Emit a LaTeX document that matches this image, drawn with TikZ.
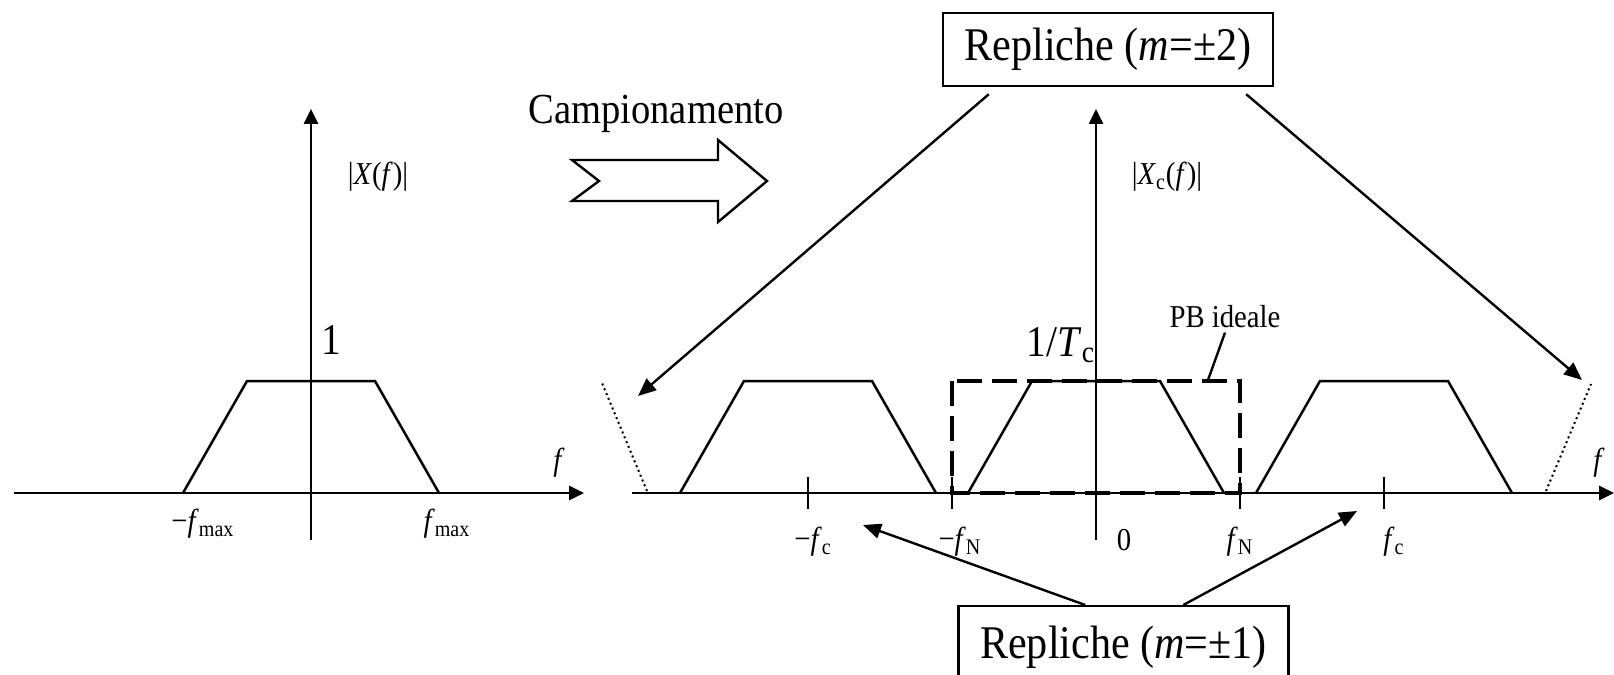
\documentclass[tikz,border=0pt]{standalone}
\usepackage{fontspec}
\setmainfont{Liberation Serif}[FakeStretch=0.9]
\usetikzlibrary{arrows.meta,calc}
\begin{document}
\begin{tikzpicture}[x=0.5bp,y=-0.5bp,
  axis/.style={line width=1.3bp,-{Triangle[length=7.5bp,width=7bp]}},
  curve/.style={line width=1.25bp,line join=miter},
  conn/.style={line width=1.2bp,-{Triangle[length=9bp,width=7.5bp]}},
  tickmark/.style={line width=1.4bp},
  ideal/.style={line width=2bp,dash pattern=on 12.5bp off 5bp},
  dots/.style={line width=1bp,dash pattern=on 1bp off 1.6bp},
  leader/.style={line width=1.2bp},
  big/.style={font=\fontsize{22}{26}\selectfont,inner sep=0},
  small/.style={font=\fontsize{16}{19}\selectfont,inner sep=0},
  box/.style={draw,line width=1.2bp,font=\fontsize{23.5}{28}\selectfont,inner sep=0,minimum width=165bp},
]
\useasboundingbox (0,0) rectangle (1614,675);
\clip (0,0) rectangle (1614,675);

% ---------- left spectrum ----------
\draw[axis] (14,493) -- (584,493);
\draw[axis] (311,540) -- (311,109);
\draw[curve] (183,493) -- (247,381) -- (375,381) -- (439,493);
\node[big] (one) at (331,340) {1};
\node[small] (lX) at (378,177) {|\textit{X}(\textit{f})|};
\node[small] (lf) at (559,463) {\textit{f}};
\node[small] (lmfm) at (203,524) {−\textit{f}\textsubscript{max}};
\node[small] (lfm) at (447,524) {\textit{f}\textsubscript{max}};

% ---------- sampling arrow ----------
\node[big,font=\fontsize{21.5}{26}\selectfont] (camp) at (656,114) {Campionamento};
\draw[line width=1.2bp,line join=miter] (572,160) -- (718,160) -- (718,140) -- (767,181)
  -- (718,222) -- (718,201) -- (572,201) -- (599,181) -- cycle;

% ---------- right spectrum ----------
\draw[axis] (632,493) -- (1614,493);
\draw[axis] (1096,540) -- (1096,109);
\foreach \c in {808,1096,1384}{
  \draw[curve] (\c-128,493) -- (\c-64,381) -- (\c+64,381) -- (\c+128,493);
}
\foreach \t in {808,952,1240,1384}{
  \draw[tickmark] (\t,477) -- (\t,509);
}
\draw[ideal] (952,381) rectangle (1240,493);
\draw[dots] (647,491) -- (602,383);
\draw[dots] (1546,491) -- (1591,384);

\node[big] (inv) at (1061,345) {1/\textit{T}\textsubscript{c}};
\node[small] (rX) at (1167,177) {|\textit{X}\textsubscript{c}(\textit{f})|};
\node[small] (pb) at (1225,317) {PB ideale};
\coordinate (pbt) at (1208,380);
\draw[leader] (pb.south) ++(0,4) -- (pbt);
\node[small] (rf) at (1599,463) {\textit{f}};
\node[small] (mfc) at (813,542) {−\textit{f}\textsubscript{c}};
\node[small] (mfN) at (960,542) {−\textit{f}\textsubscript{N}};
\node[small] (zero) at (1124,540) {0};
\node[small] (fN) at (1240,542) {\textit{f}\textsubscript{N}};
\node[small] (fc) at (1394,542) {\textit{f}\textsubscript{c}};

% ---------- replica boxes ----------
\node[box,minimum height=36.5bp] (r2) at (1108,49.5) {Repliche (\textit{m}=±2)};
\node[box,minimum height=39bp,anchor=north,text depth=0pt] (r1) at (1123.5,605) {\raisebox{3bp}{Repliche (\textit{m}=±1)}};

\coordinate (t2L) at (638,396);
\coordinate (t2R) at (1582,380);
\coordinate (t1L) at (863,525);
\coordinate (t1R) at (1357,511);
\draw[conn] ($(r2.south west)+(47,7)$) -- (t2L);
\draw[conn] ($(r2.south east)+(-28,7)$) -- (t2R);
\draw[conn] ($(r1.north west)+(128,0)$) -- (t1L);
\draw[conn] ($(r1.north west)+(226,0)$) -- (t1R);
\end{tikzpicture}
\end{document}
